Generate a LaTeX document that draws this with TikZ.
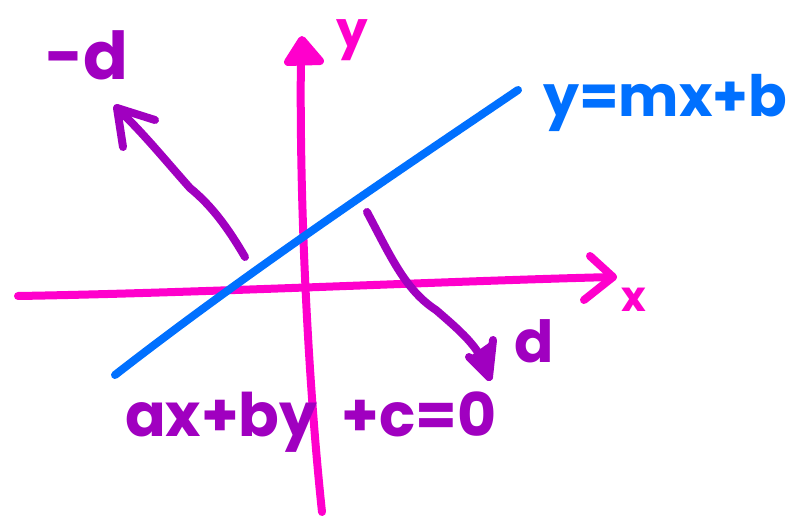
\documentclass[tikz,border=0pt]{standalone}
\usepackage{fontspec}
\setmainfont{Poppins}
\definecolor{axpink}{HTML}{FF00CC}
\definecolor{lnblue}{HTML}{0070FF}
\definecolor{dpurple}{HTML}{A000C0}
\begin{document}
\begin{tikzpicture}[x=1pt,y=-1pt,line cap=round,line join=round,
  pen/.style={line width=8pt},
  axisline/.style={pen,draw=axpink},
  bluepen/.style={pen,draw=lnblue},
  purplepen/.style={pen,draw=dpurple},
  lbl/.style={inner sep=0pt,font=\bfseries}]
\useasboundingbox[fill=white] (0,0) rectangle (812,516);

% x axis
\coordinate (xl) at (18,296);
\coordinate (xt) at (613,277);
\coordinate (xa1) at (590,256);
\coordinate (xa2) at (584,300);
\draw[axisline] (xl) .. controls (200,293) and (450,281) .. (xt);
\draw[axisline] (xa1) -- (xt) -- (xa2);
\node[lbl,text=axpink,font=\bfseries\fontsize{42}{48}\selectfont] (xlab) at (634,300) {x};

% y axis
\coordinate (yb) at (322,512);
\coordinate (yt) at (302,40);
\coordinate (ya1) at (288,62);
\coordinate (ya2) at (320,61);
\draw[axisline] (yb) .. controls (308,380) and (299,200) .. (301,52);
\draw[axisline,fill=axpink] (ya1) -- (yt) -- (ya2) -- cycle;
\node[lbl,text=axpink,font=\bfseries\fontsize{50}{56}\selectfont] (ylab) at (352,40) {y};

% blue line
\coordinate (bl) at (115,375);
\coordinate (br) at (518,90);
\draw[bluepen] (bl) .. controls (250,270) and (400,170) .. (br);
\node[lbl,text=lnblue,font=\bfseries\fontsize{57}{63}\selectfont,anchor=base west] (blab) at (543,117) {y=mx+b};

% -d arrow
\coordinate (mt) at (245,257);
\coordinate (mm) at (190,188);
\coordinate (mh) at (117,108);
\coordinate (ma1) at (123,147);
\coordinate (ma2) at (155,120);
\draw[purplepen] (mt) .. controls (228,228) and (212,206) .. (mm)
                      .. controls (165,160) and (145,135) .. (mh);
\draw[purplepen] (ma1) -- (mh) -- (ma2);
\node[lbl,text=dpurple,font=\bfseries\fontsize{66}{72}\selectfont,anchor=base west] (mlab) at (45,80) {-d};

% d arrow
\coordinate (pt) at (367,212);
\coordinate (pm) at (436,310);
\coordinate (ph) at (489,377);
\coordinate (pa1) at (469,357);
\coordinate (pa2) at (493,340);
\draw[purplepen] (pt) .. controls (390,255) and (405,290) .. (pm)
                      .. controls (465,335) and (482,350) .. (ph);
\draw[purplepen,fill=dpurple] (pa1) -- (ph) -- (pa2);
\node[lbl,text=dpurple,font=\bfseries\fontsize{58}{64}\selectfont,anchor=base west] (plab) at (514,362) {d};

% equation
\node[lbl,text=dpurple,font=\bfseries\fontsize{60}{66}\selectfont,anchor=base west] (eq) at (125,436) {ax+by\hspace{24pt}+c=0};
\end{tikzpicture}
\end{document}
